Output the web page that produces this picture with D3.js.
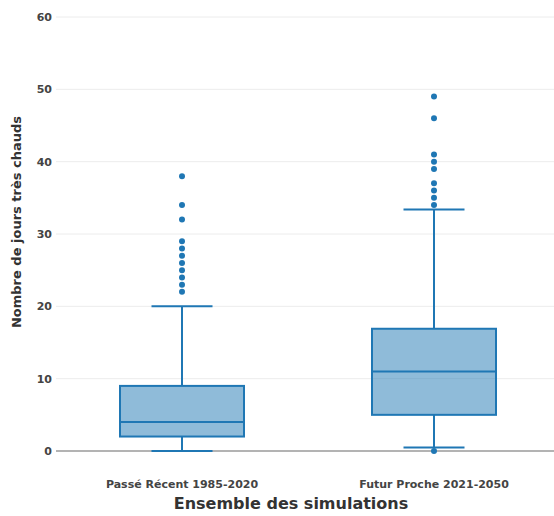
<!DOCTYPE html>
<html>
<head>
<meta charset="utf-8">
<script src="https://cdn.jsdelivr.net/npm/d3@7"></script>
<style>
  body { margin: 0; background: #fff; }
  text { font-family: "DejaVu Sans", Verdana, sans-serif; }
</style>
</head>
<body>
<div id="chart"></div>
<script>
var categories = ["Passé Récent 1985-2020", "Futur Proche 2021-2050"];
var lowerWhisker = [0, 0.5];
var q1 = [2, 5];
var median = [4, 11];
var q3 = [9, 16.9];
var upperWhisker = [20, 33.4];
var outliers = [
    [22, 23, 24, 25, 26, 27, 28, 29, 32, 34, 38],
    [0, 34, 35, 36, 37, 39, 40, 41, 46, 49]
];
var yTicks = [0, 10, 20, 30, 40, 50, 60];

var w = 554, h = 516;
var margin = { top: 17, right: -6, bottom: 65, left: 56 };
var color = "#1f77b4";

var svg = d3.select("#chart").append("svg")
    .attr("width", w).attr("height", h);

var x = d3.scaleBand()
    .domain(categories)
    .range([margin.left, w - margin.right]);

var y = d3.scaleLinear()
    .domain([0, 60])
    .range([h - margin.bottom, margin.top]);

// grid
svg.append("g").selectAll("line")
    .data(yTicks)
    .enter().append("line")
    .attr("x1", margin.left).attr("x2", w)
    .attr("y1", function (d) { return y(d); })
    .attr("y2", function (d) { return y(d); })
    .attr("stroke", function (d) { return d === 0 ? "#9a9a9a" : "#ececec"; })
    .attr("stroke-width", function (d) { return d === 0 ? 1.5 : 1; });

var yAxis = svg.append("g")
    .attr("transform", "translate(" + margin.left + ",0)")
    .call(d3.axisLeft(y).tickValues(yTicks).tickSize(0).tickPadding(4));
yAxis.select(".domain").remove();
yAxis.selectAll("text")
    .attr("font-family", "DejaVu Sans")
    .attr("font-size", 11)
    .attr("font-weight", "bold")
    .attr("fill", "#444");

var xAxis = svg.append("g")
    .attr("transform", "translate(0," + (h - margin.bottom) + ")")
    .call(d3.axisBottom(x).tickSize(0).tickPadding(29));
xAxis.select(".domain").remove();
xAxis.selectAll("text")
    .attr("font-family", "DejaVu Sans")
    .attr("font-size", 11)
    .attr("font-weight", "bold")
    .attr("fill", "#444");

var boxW = 124, capW = 61;

var boxes = svg.selectAll("g.box")
    .data(categories)
    .enter().append("g")
    .attr("class", "box");

boxes.each(function (c, i) {
    var g = d3.select(this);
    var cx = x(c) + x.bandwidth() / 2;

    // whiskers
    g.append("line")
        .attr("x1", cx).attr("x2", cx)
        .attr("y1", y(upperWhisker[i])).attr("y2", y(q3[i]))
        .attr("stroke", color).attr("stroke-width", 2);
    g.append("line")
        .attr("x1", cx).attr("x2", cx)
        .attr("y1", y(lowerWhisker[i])).attr("y2", y(q1[i]))
        .attr("stroke", color).attr("stroke-width", 2);
    [upperWhisker[i], lowerWhisker[i]].forEach(function (v) {
        g.append("line")
            .attr("x1", cx - capW / 2).attr("x2", cx + capW / 2)
            .attr("y1", y(v)).attr("y2", y(v))
            .attr("stroke", color).attr("stroke-width", 2);
    });

    g.append("rect")
        .attr("x", cx - boxW / 2)
        .attr("y", y(q3[i]))
        .attr("width", boxW)
        .attr("height", y(q1[i]) - y(q3[i]))
        .attr("fill", "rgba(31,119,180,0.5)")
        .attr("stroke", color).attr("stroke-width", 2);

    g.append("line")
        .attr("x1", cx - boxW / 2).attr("x2", cx + boxW / 2)
        .attr("y1", y(median[i])).attr("y2", y(median[i]))
        .attr("stroke", color).attr("stroke-width", 2);

    g.selectAll("circle")
        .data(outliers[i])
        .enter().append("circle")
        .attr("cx", cx)
        .attr("cy", function (d) { return y(d); })
        .attr("r", 3)
        .attr("fill", color);
});

svg.append("text")
    .attr("transform", "translate(21,222) rotate(-90)")
    .attr("text-anchor", "middle")
    .attr("font-size", 13)
    .attr("font-weight", "bold")
    .attr("fill", "#333")
    .text("Nombre de jours très chauds");

svg.append("text")
    .attr("x", 291)
    .attr("y", 509)
    .attr("text-anchor", "middle")
    .attr("font-size", 16)
    .attr("font-weight", "bold")
    .attr("fill", "#333")
    .text("Ensemble des simulations");
</script>
</body>
</html>
